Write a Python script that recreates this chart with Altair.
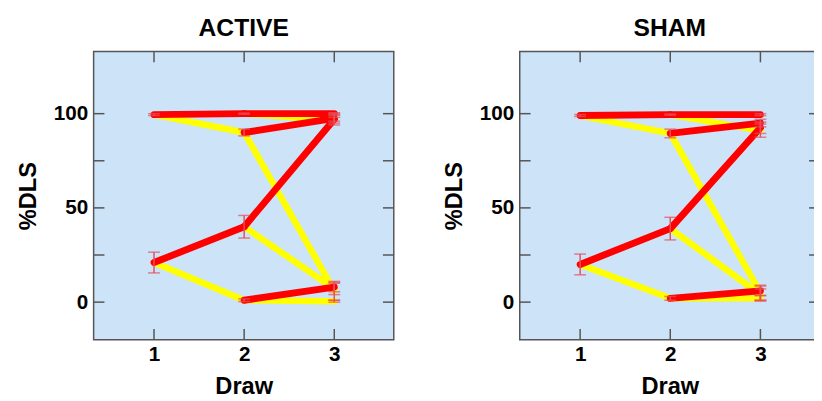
import altair as alt
import pandas as pd

# ---- data ----
draws = [1, 2, 3]
y_tick_values = [0, 25, 50, 75, 100]
y_label_values = [0, 50, 100]

# tree of node values: draw 1 nodes, then each node branches red (first) / yellow (second)
active_d1 = [99.5, 21]
active_d1_err = [0.5, 5.5]
active_d2 = [100, 90, 40, 1]
active_d2_err = [0.3, 1.8, 6, 0.7]
active_d3 = [100, 96.5, 97.5, 6, 97, 7, 8, 0.5]
active_d3_err = [0.5, 1.5, 1.5, 5, 3, 3, 2.5, 0.5]

sham_d1 = [99, 20]
sham_d1_err = [0.5, 5.5]
sham_d2 = [99.5, 89.5, 39, 2]
sham_d2_err = [0.3, 2.3, 6, 1]
sham_d3 = [99.5, 91, 95, 5, 92.5, 4, 6, 2]
sham_d3_err = [0.5, 3.5, 2, 4, 3, 3, 2.5, 1.5]

FONT = "Liberation Sans"
RED = "#ff0000"
YELLOW = "#ffff00"
ERR = "#e4505c"
FRAME = "#555555"
BG = "#cce3f8"
WIDTH = 305
HEIGHT = 293
TICK = 11


def build(d1, d1e, d2, d2e, d3, d3e):
    segs = []
    for i, v in enumerate(d2):
        segs.append(dict(x=draws[0], y=d1[i // 2], x2=draws[1], y2=v,
                         c="red" if i % 2 == 0 else "yellow"))
    for j, v in enumerate(d3):
        segs.append(dict(x=draws[1], y=d2[j // 2], x2=draws[2], y2=v,
                         c="red" if j % 2 == 0 else "yellow"))
    nodes = []
    for vals, errs, d in ((d1, d1e, draws[0]), (d2, d2e, draws[1]), (d3, d3e, draws[2])):
        for v, e in zip(vals, errs):
            nodes.append(dict(x=d, lo=v - e, hi=v + e))
    return pd.DataFrame(segs), pd.DataFrame(nodes)


def panel(title, d1, d1e, d2, d2e, d3, d3e):
    segs, nodes = build(d1, d1e, d2, d2e, d3, d3e)
    xs = alt.Scale(domain=[0.33, 3.66], nice=False, zero=False)
    ys = alt.Scale(domain=[-20, 133], nice=False, zero=False)
    xax = alt.Axis(values=draws, ticks=False, tickSize=0, domain=False, grid=False,
                   title="Draw", labelPadding=4, titlePadding=11, format="d")
    yax = alt.Axis(values=y_label_values, ticks=False, tickSize=0, domain=False, grid=False,
                   title="%DLS", labelPadding=6, titlePadding=10, minExtent=44, maxExtent=44)

    def X(f):
        return alt.X(f, type="quantitative", scale=xs, axis=xax)

    def Y(f):
        return alt.Y(f, type="quantitative", scale=ys, axis=yax)

    yellow = alt.Chart(segs[segs.c == "yellow"]).mark_rule(
        color=YELLOW, strokeWidth=6.5, strokeCap="round").encode(
        x=X("x"), y=Y("y"), x2="x2", y2="y2")
    red = alt.Chart(segs[segs.c == "red"]).mark_rule(
        color=RED, strokeWidth=7, strokeCap="round").encode(
        x=X("x"), y=Y("y"), x2="x2", y2="y2")
    ebar = alt.Chart(nodes).mark_rule(color=ERR, strokeWidth=1.5).encode(
        x=X("x"), y=Y("lo"), y2="hi")
    cap_lo = alt.Chart(nodes).mark_tick(color=ERR, orient="horizontal", size=12,
                                        thickness=1.5).encode(x=X("x"), y=Y("lo"))
    cap_hi = alt.Chart(nodes).mark_tick(color=ERR, orient="horizontal", size=12,
                                        thickness=1.5).encode(x=X("x"), y=Y("hi"))

    ydf = pd.DataFrame({"t": y_tick_values})
    xdf = pd.DataFrame({"d": draws})
    yt_left = alt.Chart(ydf).mark_rule(color=FRAME, strokeWidth=1.5).encode(
        y=Y("t"), x=alt.value(0), x2=alt.value(TICK))
    yt_right = alt.Chart(ydf).mark_rule(color=FRAME, strokeWidth=1.5).encode(
        y=Y("t"), x=alt.value(WIDTH - TICK), x2=alt.value(WIDTH))
    xt_top = alt.Chart(xdf).mark_rule(color=FRAME, strokeWidth=1.5).encode(
        x=X("d"), y=alt.value(0), y2=alt.value(TICK))
    xt_bot = alt.Chart(xdf).mark_rule(color=FRAME, strokeWidth=1.5).encode(
        x=X("d"), y=alt.value(HEIGHT - TICK), y2=alt.value(HEIGHT))

    layers = [yellow, red, ebar, cap_lo, cap_hi, yt_left, yt_right, xt_top, xt_bot]
    view = alt.ViewBackground(fill=BG, stroke=FRAME, strokeWidth=1.5)
    return alt.layer(*layers).properties(
        width=WIDTH, height=HEIGHT, view=view,
        title=alt.TitleParams(title, fontSize=25, fontWeight="bold", font=FONT,
                              anchor="middle", offset=10, color="black"))


active = panel("ACTIVE", active_d1, active_d1_err, active_d2, active_d2_err,
               active_d3, active_d3_err)
sham = panel("SHAM", sham_d1, sham_d1_err, sham_d2, sham_d2_err,
             sham_d3, sham_d3_err)

# the right edge of the SHAM panel lies just past the picture, as in the original
chart = alt.hconcat(active, sham, spacing=47).properties(
    padding={"left": 8, "top": 4, "right": -8, "bottom": -2},
    background="white",
).configure_axis(
    labelFont=FONT, titleFont=FONT, labelFontSize=21, titleFontSize=24,
    labelFontWeight="bold", titleFontWeight="bold", labelColor="black", titleColor="black",
).configure_view(fill=BG)

chart.save("out.html", embed_options={"renderer": "svg", "actions": False})
